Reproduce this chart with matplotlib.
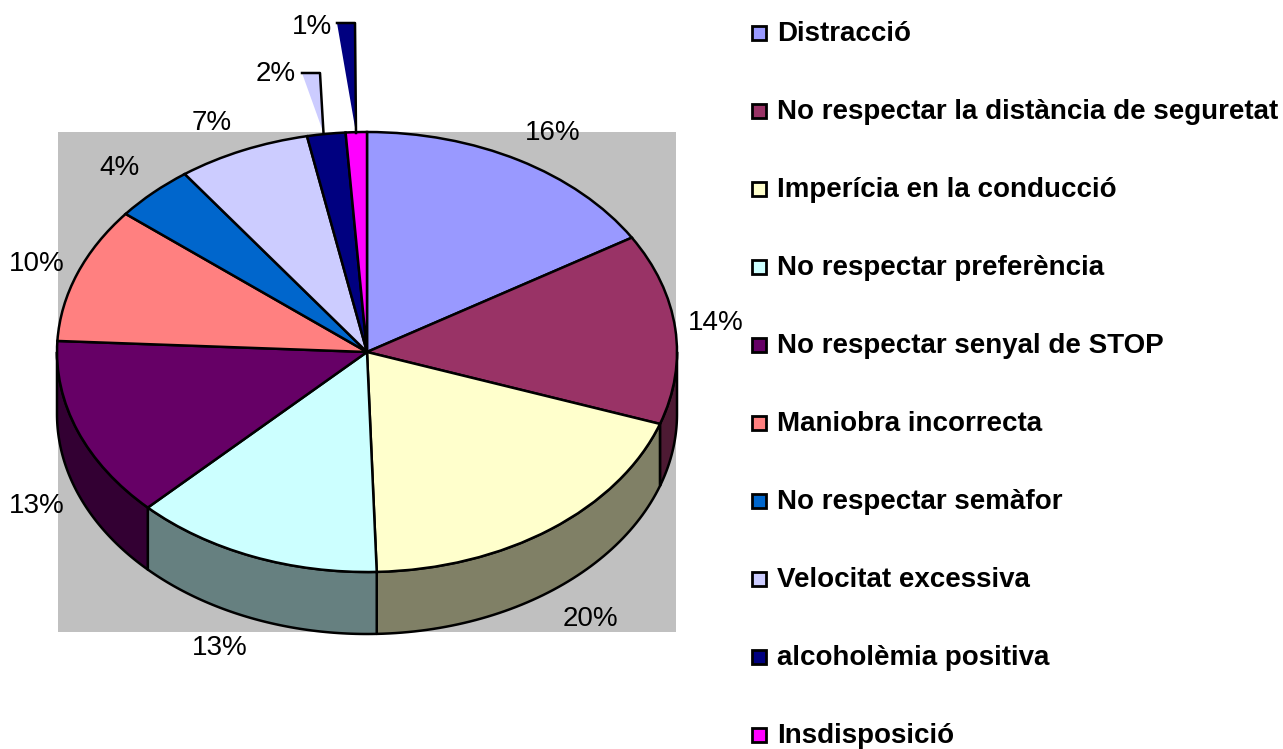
import numpy as np
import matplotlib
matplotlib.use('Agg')
import matplotlib.pyplot as plt
from matplotlib.patches import Rectangle, Polygon

# Causes of accidents, shares
categories = ['Distracció', 'No respectar la distància de seguretat',
              'Imperícia en la conducció', 'No respectar preferència',
              'No respectar senyal de STOP', 'Maniobra incorrecta',
              'No respectar semàfor', 'Velocitat excessiva',
              'alcoholèmia positiva', 'Insdisposició']
shares = [16.3, 14.0, 19.2, 13.0, 13.3, 10.0, 4.2, 6.9, 2.0, 1.1]
share_labels = ['16%', '14%', '20%', '13%', '13%', '10%', '4%', '7%', '2%', '1%']
colors = ['#9999FF', '#993366', '#FFFFCC', '#CCFFFF', '#660066',
          '#FF8080', '#0066CC', '#CCCCFF', '#000080', '#FF00FF']

W, H = 1283, 749
cx, cy, rx, ry, depth = 367, 352, 310, 220, 62
lw = 1.8

plt.rcParams['font.family'] = ['Liberation Sans', 'DejaVu Sans']
fig = plt.figure(figsize=(W / 100, H / 100), dpi=100)

# full figure axes in pixel coordinates, for background, labels and legend
bg = fig.add_axes([0, 0, 1, 1])
bg.set_xlim(0, W)
bg.set_ylim(H, 0)
bg.axis('off')
bg.add_patch(Rectangle((58, 132), 618, 500, facecolor='#C0C0C0', edgecolor='none'))

# the pie axes map the unit circle on to the tilted ellipse
ax = fig.add_axes([(cx - rx) / W, (H - cy - ry) / H, 2 * rx / W, 2 * ry / H])
ax.patch.set_alpha(0)
ax.pie(shares, colors=colors, startangle=90, counterclock=False, radius=1,
       wedgeprops={'edgecolor': 'black', 'linewidth': lw, 'zorder': 5})
ax.set_aspect('auto')
ax.set_xlim(-1, 1)
ax.set_ylim(-1, 1)

# side walls of the 3D pie, only where the rim faces the viewer
d = depth / ry
edges = 90 - 3.6 * np.cumsum([0] + shares)
for i, col in enumerate(colors):
    a0, a1 = edges[i], edges[i + 1]
    lo = max(a1, -180)
    hi = min(a0, 0)
    if lo >= hi:
        continue
    t = np.radians(np.linspace(hi, lo, 60))
    x, y = np.cos(t), np.sin(t)
    pts = np.r_[np.c_[x, y], np.c_[x[::-1], y[::-1] - d]]
    dark = tuple(0.5 * c for c in matplotlib.colors.to_rgb(col))
    ax.add_patch(Polygon(pts, closed=True, facecolor=dark, edgecolor='black',
                         linewidth=lw, zorder=2, clip_on=False,
                         joinstyle='round'))

# leader strips of the two small slices
over = fig.add_axes([0, 0, 1, 1])
over.set_xlim(0, W)
over.set_ylim(H, 0)
over.axis('off')
over.patch.set_alpha(0)
over.add_patch(Polygon([(302, 73), (320, 73), (323.5, 133)], facecolor=colors[7], edgecolor='none'))
over.plot([302, 320, 323.5], [73, 73, 133], color='black', lw=lw)
over.add_patch(Polygon([(337, 23), (355, 23), (356, 133)], facecolor=colors[8], edgecolor='none'))
over.plot([337, 355, 356], [23, 23, 133], color='black', lw=lw)

# percent labels
label_pos = [(553, 133), (716, 323), (590, 619), (220, 648), (37, 506),
             (37, 264), (120, 168), (212, 123), (276, 74), (312, 27)]
for txt, (px, py) in zip(share_labels, label_pos):
    over.text(px, py, txt, fontsize=20, ha='center', va='center', color='black')

# legend
for i, (name, col) in enumerate(zip(categories, colors)):
    y = 33 + i * 78
    over.add_patch(Rectangle((752, y - 7), 14, 14, facecolor=col, edgecolor='black', linewidth=2.0))
    over.text(777, y + 1, name, fontsize=20, fontweight='bold', ha='left', va='center', color='black')

fig.savefig('out.png', dpi=100)
